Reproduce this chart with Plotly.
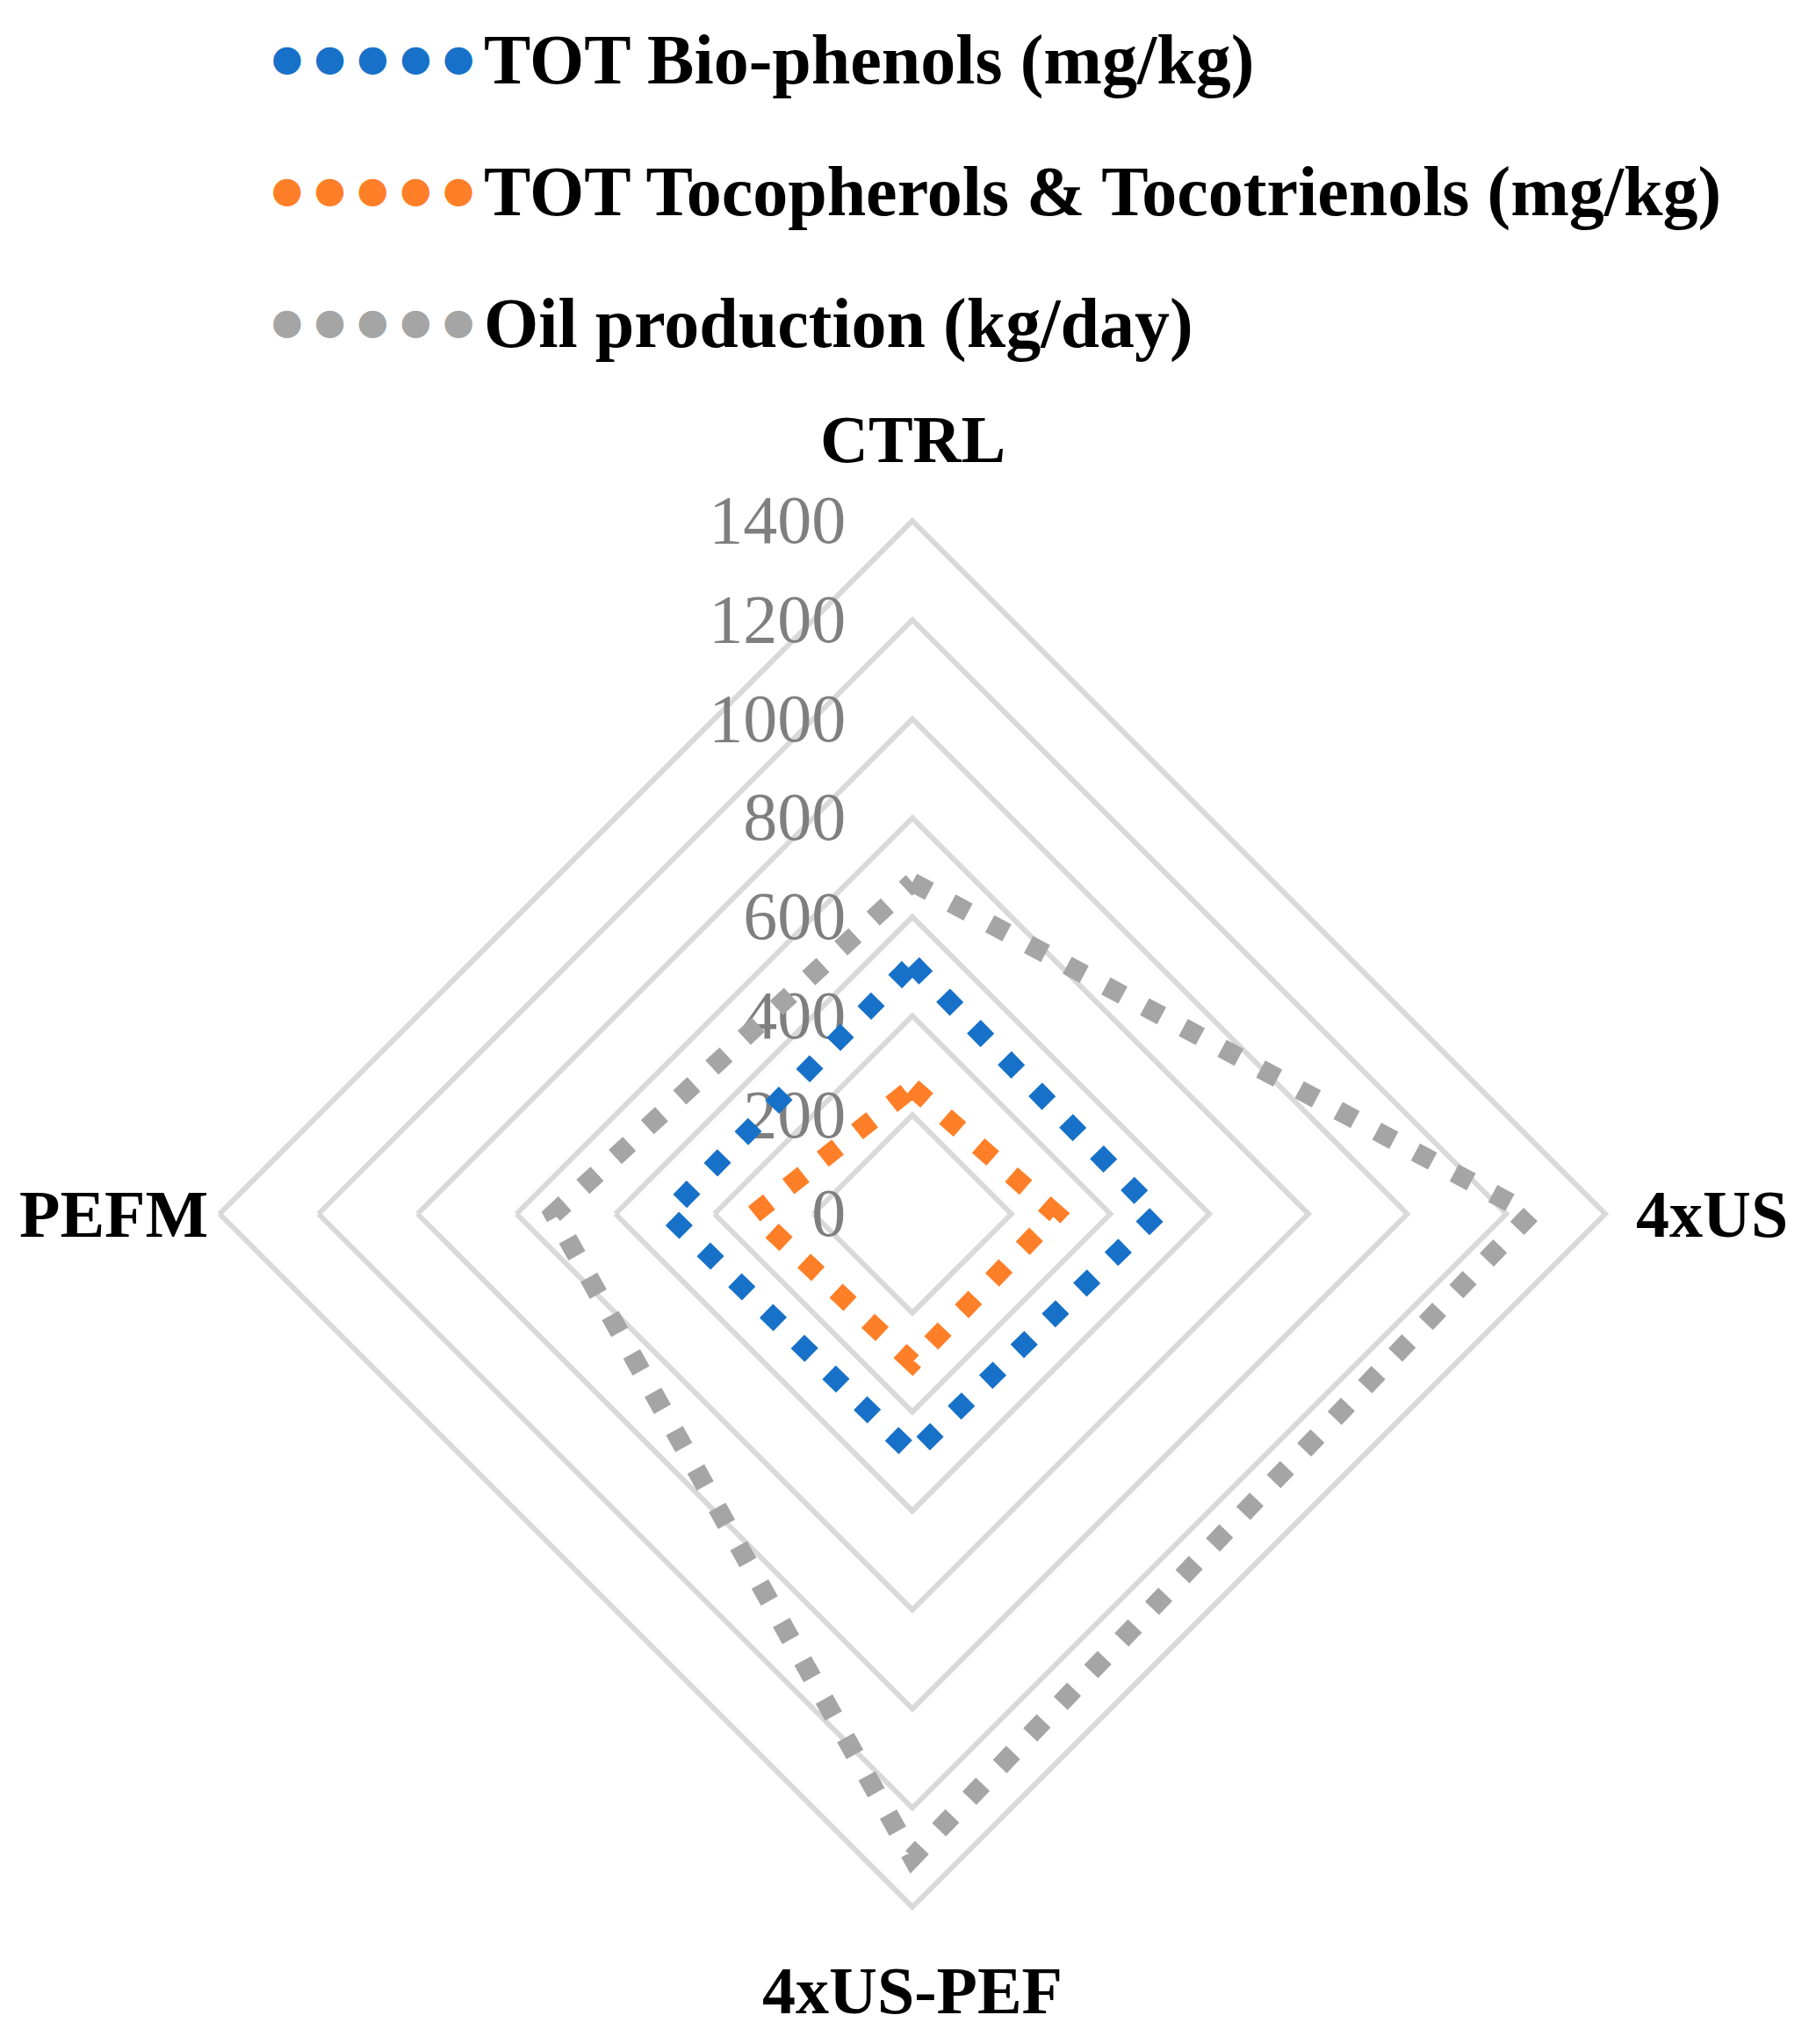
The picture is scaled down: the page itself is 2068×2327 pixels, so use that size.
import plotly.graph_objects as go

categories = ["CTRL", "4xUS", "4xUS-PEF", "PEFM"]
biophenols = [505, 495, 485, 495]
tocopherols = [255, 290, 300, 320]
oil_production = [670, 1250, 1300, 725]
series_names = ["TOT Bio-phenols (mg/kg)",
                "TOT Tocopherols & Tocotrienols (mg/kg)",
                "Oil production (kg/day)"]
series_colors = ["#1771C8", "#FE7F27", "#A5A5A5"]
radial_ticks = [0, 200, 400, 600, 800, 1000, 1200, 1400]

W, H = 2068, 2327
cx, cy, R = 1031, 1374, 789

fig = go.Figure()
for name, vals, col in zip(series_names, [biophenols, tocopherols, oil_production], series_colors):
    fig.add_trace(go.Scatterpolar(
        r=vals + vals[:1],
        theta=categories + categories[:1],
        mode="lines",
        name=name,
        line=dict(color=col, width=22, dash="22px,28px"),
        showlegend=False,
    ))

serif = "Liberation Serif"
fig.update_layout(
    width=W, height=H,
    margin=dict(l=0, r=0, t=0, b=0),
    paper_bgcolor="white",
    plot_bgcolor="white",
    showlegend=False,
    polar=dict(
        domain=dict(x=[(cx - R) / W, (cx + R) / W],
                    y=[(H - cy - R) / H, (H - cy + R) / H]),
        gridshape="linear",
        bgcolor="white",
        radialaxis=dict(
            range=[0, 1400],
            tickvals=radial_ticks,
            ticktext=[str(v) for v in radial_ticks],
            angle=90,
            side="counterclockwise",
            tickangle=90,
            showline=False,
            gridcolor="#D9D9D9",
            gridwidth=6,
            ticks="outside",
            ticklen=48,
            tickcolor="rgba(0,0,0,0)",
            tickfont=dict(family=serif, size=78, color="#7F7F7F"),
            layer="below traces",
        ),
        angularaxis=dict(
            categoryarray=categories,
            rotation=90,
            direction="clockwise",
            showgrid=False,
            showline=True,
            linecolor="#D9D9D9",
            linewidth=6,
            ticks="",
            showticklabels=False,
            layer="below traces",
        ),
    ),
)

# category labels around the polar frame
label_font = dict(family=serif, size=76, color="black")
label_pos = [
    (cx, cy - R - 93, "center", "middle"),
    (cx + R + 33, cy, "left", "middle"),
    (cx, cy + R + 95, "center", "middle"),
    (12, cy, "left", "middle"),
]
for cat, (px, py, xa, ya) in zip(categories, label_pos):
    fig.add_annotation(
        xref="paper", yref="paper", x=px / W, y=1 - py / H,
        xanchor=xa, yanchor=ya, showarrow=False,
        text="<b>" + cat + "</b>", font=label_font,
    )

row_y = [70, 220, 370]
for name, col, yy in zip(series_names, series_colors, row_y):
    fig.add_annotation(
        xref="paper", yref="paper", x=534 / W, y=1 - (yy - 12) / H,
        xanchor="right", yanchor="middle", showarrow=False,
        text="● ● ● ● ●",
        font=dict(family="DejaVu Sans", size=41, color=col),
    )
    fig.add_annotation(
        xref="paper", yref="paper", x=541 / W, y=1 - (yy - 10) / H,
        xanchor="left", yanchor="middle", showarrow=False,
        text="<b>" + name.replace("&", "&amp;") + "</b>",
        font=dict(family=serif, size=80, color="black"),
    )

fig.write_html("out.html")
